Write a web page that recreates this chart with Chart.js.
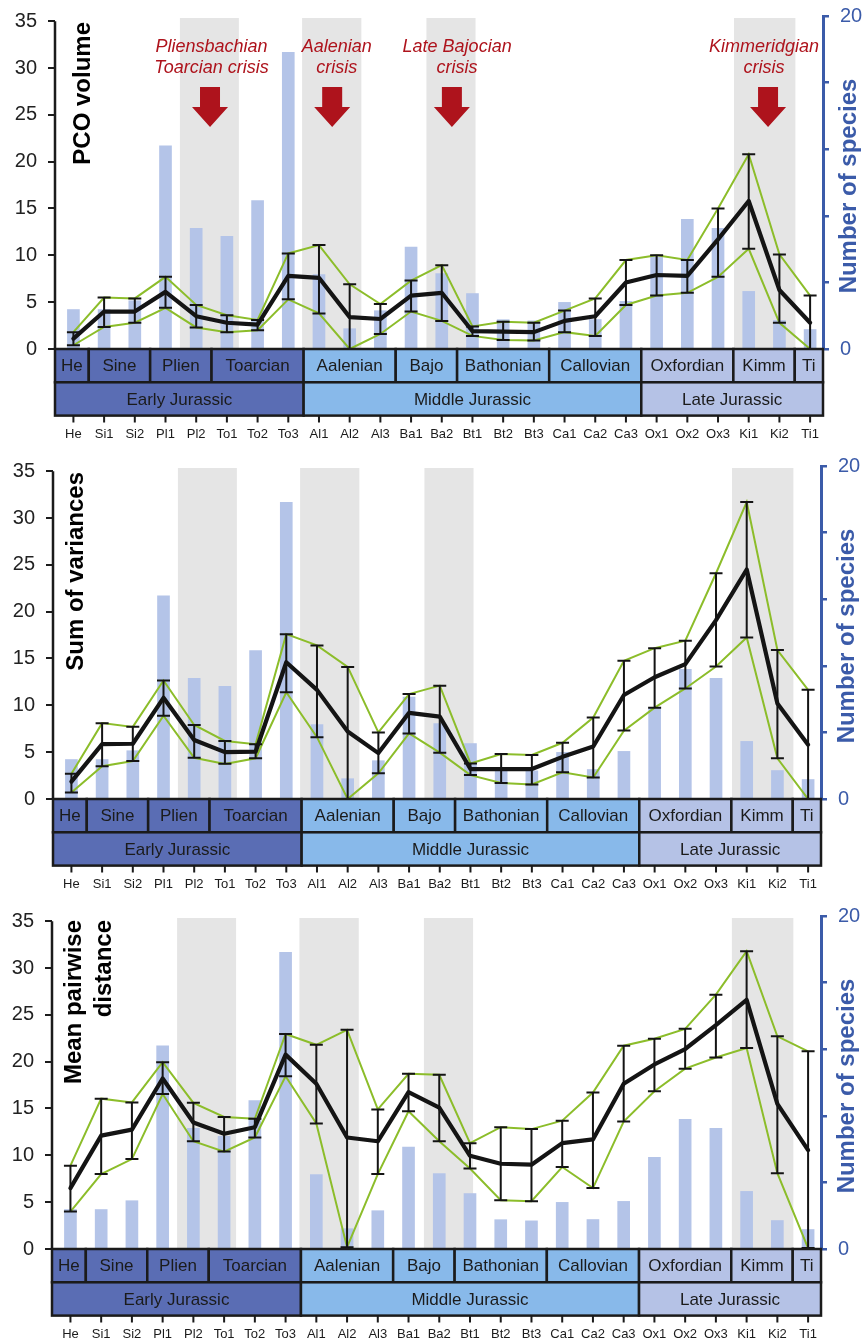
<!DOCTYPE html>
<html>
<head>
<meta charset="utf-8">
<script src="https://cdn.jsdelivr.net/npm/chart.js@4.4.1/dist/chart.umd.min.js"></script>
<style>
  html, body { margin: 0; padding: 0; background: #fff; }
  body { width: 863px; height: 1343px; overflow: hidden; position: relative; }
  .panel { position: absolute; left: 0; width: 863px; }
  canvas { display: block; }
</style>
</head>
<body>
<div class="panel" style="top:0;height:450px"><canvas id="pco" width="863" height="450"></canvas></div>
<div class="panel" style="top:450px;height:450px"><canvas id="sov" width="863" height="450"></canvas></div>
<div class="panel" style="top:900px;height:443px"><canvas id="mpd" width="863" height="443"></canvas></div>
<script>
// ---- Stratigraphic sub-stages (x categories) ----
const stageCodes = ['He','Si1','Si2','Pl1','Pl2','To1','To2','To3','Al1','Al2','Al3','Ba1','Ba2',
                    'Bt1','Bt2','Bt3','Ca1','Ca2','Ca3','Ox1','Ox2','Ox3','Ki1','Ki2','Ti1'];

// ---- Number of species per sub-stage (right axis) ----
const speciesCount = [2.37, 2.37, 2.9, 12.2, 7.25, 6.76, 8.92, 17.82, 4.47, 1.22, 2.3, 6.12, 4.53,
                      3.33, 1.76, 1.69, 2.8, 1.77, 2.86, 5.5, 7.79, 7.24, 3.46, 1.71, 1.17];

// ---- PCO volume ----
const pcoMean = [1.1, 4.0, 4.0, 6.1, 3.5, 2.8, 2.6, 7.8, 7.6, 3.4, 3.2, 5.7, 6.0,
                 1.9, 1.85, 1.8, 3.0, 3.5, 7.1, 7.9, 7.8, 11.7, 15.8, 6.3, 2.8];
const pcoLow  = [0.4, 2.35, 2.8, 4.4, 2.3, 1.8, 2.0, 5.3, 3.8, 0, 1.6, 4.0, 3.0,
                 1.4, 0.95, 0.9, 1.8, 1.4, 4.7, 5.7, 6.0, 7.7, 10.7, 2.8, 0];
const pcoHigh = [1.8, 5.5, 5.4, 7.7, 4.7, 3.6, 3.1, 10.2, 11.1, 6.9, 4.8, 7.3, 8.95,
                 2.4, 2.9, 2.8, 4.1, 5.4, 9.5, 10.0, 9.5, 15.0, 20.8, 10.1, 5.7];

// ---- Sum of variances ----
const varMean = [1.85, 5.85, 5.9, 10.8, 6.3, 5.0, 5.05, 14.6, 11.65, 7.2, 4.9, 9.2, 8.8,
                 3.2, 3.2, 3.2, 4.5, 5.6, 11.1, 13.0, 14.4, 19.1, 24.5, 10.2, 5.8];
const varLow  = [0.7, 3.5, 4.05, 8.9, 4.4, 3.75, 4.35, 11.4, 6.6, 0, 2.75, 7.0, 4.95,
                 2.55, 1.7, 1.55, 2.85, 2.3, 7.3, 9.75, 11.8, 14.15, 17.25, 4.35, 0];
const varHigh = [2.7, 8.1, 7.7, 12.65, 7.9, 6.2, 5.85, 17.6, 16.4, 14.1, 7.1, 11.2, 12.1,
                 3.8, 4.8, 4.7, 6.0, 8.7, 14.75, 16.1, 16.9, 24.1, 31.7, 15.9, 11.65];

// ---- Mean pairwise distance ----
const mpdMean = [6.5, 12.1, 12.75, 18.2, 13.5, 12.3, 13.0, 20.75, 17.65, 11.9, 11.5, 16.75, 15.1,
                 9.95, 9.1, 9.0, 11.3, 11.7, 17.65, 19.7, 21.35, 23.9, 26.6, 15.5, 10.55];
const mpdLow  = [4.0, 8.0, 9.6, 16.55, 11.5, 10.4, 11.9, 18.45, 13.4, 0.2, 8.0, 14.7, 11.5,
                 8.6, 5.2, 5.1, 8.75, 6.5, 13.6, 16.85, 19.25, 20.45, 21.45, 8.1, 0.1];
const mpdHigh = [8.9, 16.05, 15.65, 19.95, 15.6, 14.1, 13.9, 22.95, 21.8, 23.4, 14.9, 18.7, 18.6,
                 11.3, 13.0, 12.8, 13.7, 16.7, 21.7, 22.45, 23.5, 27.15, 31.8, 22.7, 21.1];

// ---- Tick values ----
const leftTicks = [0, 5, 10, 15, 20, 25, 30, 35];
const rightTicks = [0, 4, 8, 12, 16, 20];
const rightTickLabels = ['0', '', '', '', '', '20'];

// ---- Crisis intervals (in sub-stage index units) ----
const crisisBands = [[3.47, 5.39], [7.45, 9.38], [11.5, 13.1], [21.52, 23.52]];

// ---- Stage and period boxes: [label, first index, last index] ----
const stageBoxes = [['He',0,0],['Sine',1,2],['Plien',3,4],['Toarcian',5,7],['Aalenian',8,10],
                    ['Bajo',11,12],['Bathonian',13,15],['Callovian',16,18],['Oxfordian',19,21],
                    ['Kimm',22,23],['Ti',24,24]];
const periodBoxes = [['Early Jurassic',0,7],['Middle Jurassic',8,18],['Late Jurassic',19,24]];

// ---- Crisis call-outs ----
const crisisNotes = [
  { lines: ['Pliensbachian', 'Toarcian crisis'], textAt: 4.5,   arrowAt: 4.45 },
  { lines: ['Aalenian', 'crisis'],               textAt: 8.58,  arrowAt: 8.43 },
  { lines: ['Late Bajocian', 'crisis'],          textAt: 12.5,  arrowAt: 12.33 },
  { lines: ['Kimmeridgian', 'crisis'],           textAt: 22.5,  arrowAt: 22.63 }
];

const FONT = "'Liberation Sans', Arial, Helvetica, sans-serif";
Chart.defaults.font.family = FONT;
Chart.defaults.animation = false;

const COL = {
  bar: '#b4c4e8', band: '#e5e5e5', green: '#8cbd2a', black: '#141414',
  blue: '#3b5ba9', red: '#ae131c', ink: '#1b1b1b',
  early: '#5a6db4', middle: '#88b9ea', late: '#b5c2e6'
};
const X_MIN = -0.6, X_MAX = 24.42;
const PLOT_BOTTOM = 349, PLOT_TOP = 16;
const ROW_H = 33.3;

function periodColour(i) {
  if (i <= 7) return COL.early;
  if (i <= 18) return COL.middle;
  return COL.late;
}

function panelPlugin(p) {
  return {
    id: 'panel_' + p.canvas,
    beforeDatasetsDraw(chart) {
      const { ctx, chartArea: a, scales: { x } } = chart;
      ctx.save();
      ctx.fillStyle = COL.band;
      crisisBands.forEach(([s, e]) => {
        const x0 = x.getPixelForValue(s), x1 = x.getPixelForValue(e);
        ctx.fillRect(x0, a.top + 2, x1 - x0, a.bottom - a.top - 2);
      });
      ctx.restore();
    },
    afterDatasetsDraw(chart) {
      const { ctx, chartArea: a, scales: { x, y } } = chart;
      ctx.save();
      // error bars
      ctx.strokeStyle = COL.black;
      ctx.lineWidth = 2;
      p.mean.forEach((_, i) => {
        const px = x.getPixelForValue(i);
        const yl = y.getPixelForValue(p.low[i]);
        const yh = y.getPixelForValue(p.high[i]);
        ctx.beginPath();
        ctx.moveTo(px, yl); ctx.lineTo(px, yh);
        ctx.moveTo(px - 6.5, yl); ctx.lineTo(px + 6.5, yl);
        ctx.moveTo(px - 6.5, yh); ctx.lineTo(px + 6.5, yh);
        ctx.stroke();
      });
      // left axis line (0 to 35)
      ctx.strokeStyle = COL.ink;
      ctx.lineWidth = 2.5;
      ctx.beginPath();
      ctx.moveTo(a.left, y.getPixelForValue(0));
      ctx.lineTo(a.left, y.getPixelForValue(35));
      ctx.stroke();

      // left axis title, rotated, anchored at its end
      ctx.fillStyle = '#000';
      ctx.font = 'bold 24px ' + FONT;
      ctx.textAlign = 'right';
      ctx.textBaseline = 'alphabetic';
      p.title.forEach((t, k) => {
        ctx.save();
        ctx.translate(p.titleBaseX[k], p.titleEndY);
        ctx.rotate(-Math.PI / 2);
        ctx.fillText(t, 0, 0);
        ctx.restore();
      });

      // right axis title
      ctx.save();
      ctx.fillStyle = COL.blue;
      ctx.font = 'bold 24px ' + FONT;
      ctx.textAlign = 'center';
      ctx.textBaseline = 'middle';
      ctx.translate(a.right + 26, 186);
      ctx.rotate(-Math.PI / 2);
      ctx.fillText('Number of species', 0, 0);
      ctx.restore();

      // crisis call-outs
      p.notes.forEach(n => {
        ctx.fillStyle = COL.red;
        ctx.font = 'italic 18px ' + FONT;
        ctx.textAlign = 'center';
        ctx.textBaseline = 'middle';
        const tx = x.getPixelForValue(n.textAt);
        ctx.fillText(n.lines[0], tx, 47);
        ctx.fillText(n.lines[1], tx, 68);
        const ax = x.getPixelForValue(n.arrowAt);
        ctx.beginPath();
        ctx.moveTo(ax - 10, 87);
        ctx.lineTo(ax + 10, 87);
        ctx.lineTo(ax + 10, 107);
        ctx.lineTo(ax + 18, 107);
        ctx.lineTo(ax, 127);
        ctx.lineTo(ax - 18, 107);
        ctx.lineTo(ax - 10, 107);
        ctx.closePath();
        ctx.fill();
      });
      ctx.restore();
    },
    afterDraw(chart) {
      const { ctx, chartArea: a, scales: { x } } = chart;
      const edge = i => (i <= 0 ? x.getPixelForValue(X_MIN)
                        : i >= stageCodes.length ? x.getPixelForValue(X_MAX)
                        : x.getPixelForValue(i - 0.5));
      const r1 = a.bottom, r2 = a.bottom + ROW_H, r3 = a.bottom + 2 * ROW_H;
      ctx.save();
      ctx.lineWidth = 2.5;
      ctx.strokeStyle = COL.ink;
      ctx.font = '17px ' + FONT;
      ctx.textAlign = 'center';
      ctx.textBaseline = 'middle';
      const drawBox = (label, from, to, top, bottom) => {
        const l = edge(from), r = edge(to + 1);
        ctx.fillStyle = periodColour(from);
        ctx.fillRect(l, top, r - l, bottom - top);
        ctx.strokeRect(l, top, r - l, bottom - top);
        ctx.fillStyle = COL.ink;
        ctx.fillText(label, (l + r) / 2, (top + bottom) / 2 + 1);
      };
      stageBoxes.forEach(([lab, f, t]) => drawBox(lab, f, t, r1, r2));
      periodBoxes.forEach(([lab, f, t]) => drawBox(lab, f, t, r2, r3));
      // x tick marks under the period row
      ctx.lineWidth = 2;
      ctx.beginPath();
      stageCodes.forEach((_, i) => {
        const px = x.getPixelForValue(i);
        ctx.moveTo(px, r3);
        ctx.lineTo(px, r3 + 7);
      });
      ctx.stroke();
      ctx.restore();
    }
  };
}

const panels = [
  { canvas: 'pco', title: ['PCO volume'], titleBaseX: [90], titleEndY: 22,
    mean: pcoMean, low: pcoLow, high: pcoHigh, plotLeft: 55, plotRight: 823, notes: crisisNotes },
  { canvas: 'sov', title: ['Sum of variances'], titleBaseX: [83], titleEndY: 22,
    mean: varMean, low: varLow, high: varHigh, plotLeft: 53, plotRight: 821, notes: [] },
  { canvas: 'mpd', title: ['Mean pairwise', 'distance'], titleBaseX: [81, 111], titleEndY: 20,
    mean: mpdMean, low: mpdLow, high: mpdHigh, plotLeft: 52, plotRight: 821, notes: [] }
];

const toPoints = arr => arr.map((v, i) => ({ x: i, y: v }));

panels.forEach(p => {
  const canvas = document.getElementById(p.canvas);
  const H = canvas.height;
  new Chart(canvas, {
    type: 'bar',
    data: {
      datasets: [
        { type: 'bar', data: toPoints(speciesCount), yAxisID: 'y2', backgroundColor: COL.bar,
          barThickness: 12, order: 4 },
        { type: 'line', data: toPoints(p.high), yAxisID: 'y', borderColor: COL.green, borderWidth: 2,
          pointRadius: 0, tension: 0, fill: false, order: 3 },
        { type: 'line', data: toPoints(p.low), yAxisID: 'y', borderColor: COL.green, borderWidth: 2,
          pointRadius: 0, tension: 0, fill: false, order: 2 },
        { type: 'line', data: toPoints(p.mean), yAxisID: 'y', borderColor: COL.black, borderWidth: 4.2,
          borderJoinStyle: 'round', borderCapStyle: 'round', pointRadius: 0, tension: 0, fill: false, order: 1 }
      ]
    },
    options: {
      responsive: false,
      devicePixelRatio: 1,
      animation: false,
      layout: { padding: { top: PLOT_TOP, left: 0, right: 0, bottom: 0 } },
      plugins: { legend: { display: false }, tooltip: { enabled: false } },
      scales: {
        x: {
          type: 'linear', min: X_MIN, max: X_MAX, offset: false,
          afterBuildTicks: s => { s.ticks = stageCodes.map((_, i) => ({ value: i })); },
          afterFit: s => { s.height = H - PLOT_BOTTOM; s.paddingLeft = 0; s.paddingRight = 0; },
          grid: { display: false, drawTicks: false },
          border: { display: false },
          ticks: { autoSkip: false, maxRotation: 0, padding: 78, color: COL.ink,
                   font: { size: 13 }, callback: v => stageCodes[v] }
        },
        y: {
          position: 'left', min: 0, max: 35.55,
          afterBuildTicks: s => { s.ticks = leftTicks.map(v => ({ value: v })); },
          afterFit: s => { s.width = p.plotLeft; s.paddingTop = 0; s.paddingBottom = 0; },
          grid: { drawOnChartArea: false, drawTicks: true, tickLength: 7, color: COL.ink, lineWidth: 2 },
          border: { display: false },
          ticks: { padding: 11, color: '#222', font: { size: 20 } }
        },
        y2: {
          position: 'right', min: 0, max: 20,
          afterBuildTicks: s => { s.ticks = rightTicks.map(v => ({ value: v })); },
          afterFit: s => { s.width = 863 - p.plotRight; s.paddingTop = 0; s.paddingBottom = 0; },
          grid: { drawOnChartArea: false, drawTicks: true, tickLength: 6, color: COL.blue, lineWidth: 2.5 },
          border: { display: true, color: COL.blue, width: 3 },
          ticks: { padding: 11, color: COL.blue, font: { size: 20 },
                   callback: v => rightTickLabels[rightTicks.indexOf(v)] }
        }
      }
    },
    plugins: [panelPlugin(p)]
  });
});
</script>
</body>
</html>
